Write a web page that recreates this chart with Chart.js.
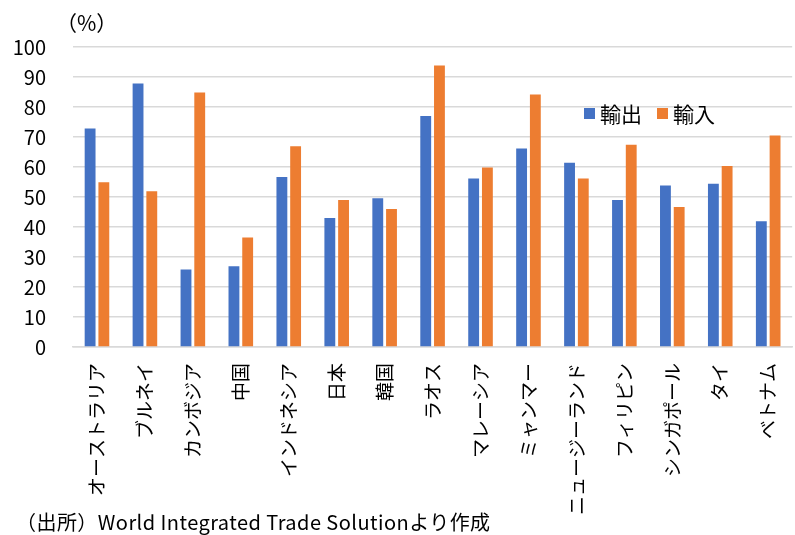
<!DOCTYPE html>
<html>
<head>
<meta charset="utf-8">
<script src="https://cdn.jsdelivr.net/npm/chart.js@4"></script>
<style>
  html, body { margin: 0; padding: 0; background: #fff; overflow: hidden; }
  #wrap { position: relative; width: 807px; height: 535px; font-family: "Noto Sans CJK JP", sans-serif; color: #000; }
  #c { position: absolute; left: 0; top: 0; width: 807px; height: 535px; }
  .t { position: absolute; white-space: nowrap; line-height: 1; }
  .sq { position: absolute; width: 11px; height: 11px; }
</style>
</head>
<body>
<div id="wrap">
  <canvas id="c" width="807" height="535"></canvas>
  <div class="t" style="left:56px;top:12px;font-size:21px;">（%）</div>
  <div class="sq" style="left:584px;top:108px;background:#4472C4;"></div>
  <div class="t" style="left:600px;top:103px;font-size:21px;">輸出</div>
  <div class="sq" style="left:657px;top:108px;background:#ED7D31;"></div>
  <div class="t" style="left:673px;top:103px;font-size:21px;">輸入</div>
  <div class="t" style="left:16px;top:512px;font-size:20px;letter-spacing:0.45px;">（出所）World Integrated Trade Solutionより作成</div>
</div>
<script>
// categories and values (%)
const countries = ["オーストラリア","ブルネイ","カンボジア","中国","インドネシア","日本","韓国","ラオス","マレーシア","ミャンマー","ニュージーランド","フィリピン","シンガポール","タイ","ベトナム"];
const exportsShare = [72.8,87.8,25.8,26.9,56.7,43.0,49.6,77.0,56.2,66.2,61.4,49.0,53.8,54.4,41.9];
const importsShare = [54.9,51.9,84.8,36.5,66.9,49.0,46.0,93.8,59.8,84.2,56.2,67.4,46.7,60.3,70.5];
const yTicks = [0,10,20,30,40,50,60,70,80,90,100];

new Chart(document.getElementById("c"), {
  type: "bar",
  data: {
    labels: countries,
    datasets: [
      {label:"輸出", data: exportsShare, backgroundColor:"#4472C4", borderWidth:0},
      {label:"輸入", data: importsShare, backgroundColor:"#ED7D31", borderWidth:0}
    ]
  },
  options: {
    responsive: false,
    animation: false,
    layout: { padding: { top: 47, right: 0, left: 0, bottom: 0 } },
    categoryPercentage: 0.573,
    barPercentage: 0.79,
    plugins: { legend: { display: false }, tooltip: { enabled: false } },
    scales: {
      x: {
        grid: { display: false, drawTicks: false },
        border: { color: "#d9d9d9", width: 1.5 },
        ticks: {
          color: "#000",
          font: { family: "Noto Sans CJK JP", size: 19 },
          minRotation: 90, maxRotation: 90,
          autoSkip: false,
          padding: 16
        },
        afterFit: s => { s.height = 535 - 347; }
      },
      y: {
        min: 0, max: 100,
        afterBuildTicks: s => { s.ticks = yTicks.map(v => ({ value: v })); },
        grid: { color: "#d9d9d9", lineWidth: 1.5, drawTicks: false },
        border: { display: false },
        ticks: {
          color: "#000",
          font: { family: "Noto Sans CJK JP", size: 20 },
          padding: 27
        },
        afterFit: s => { s.width = 73; }
      }
    }
  }
});
</script>
</body>
</html>
